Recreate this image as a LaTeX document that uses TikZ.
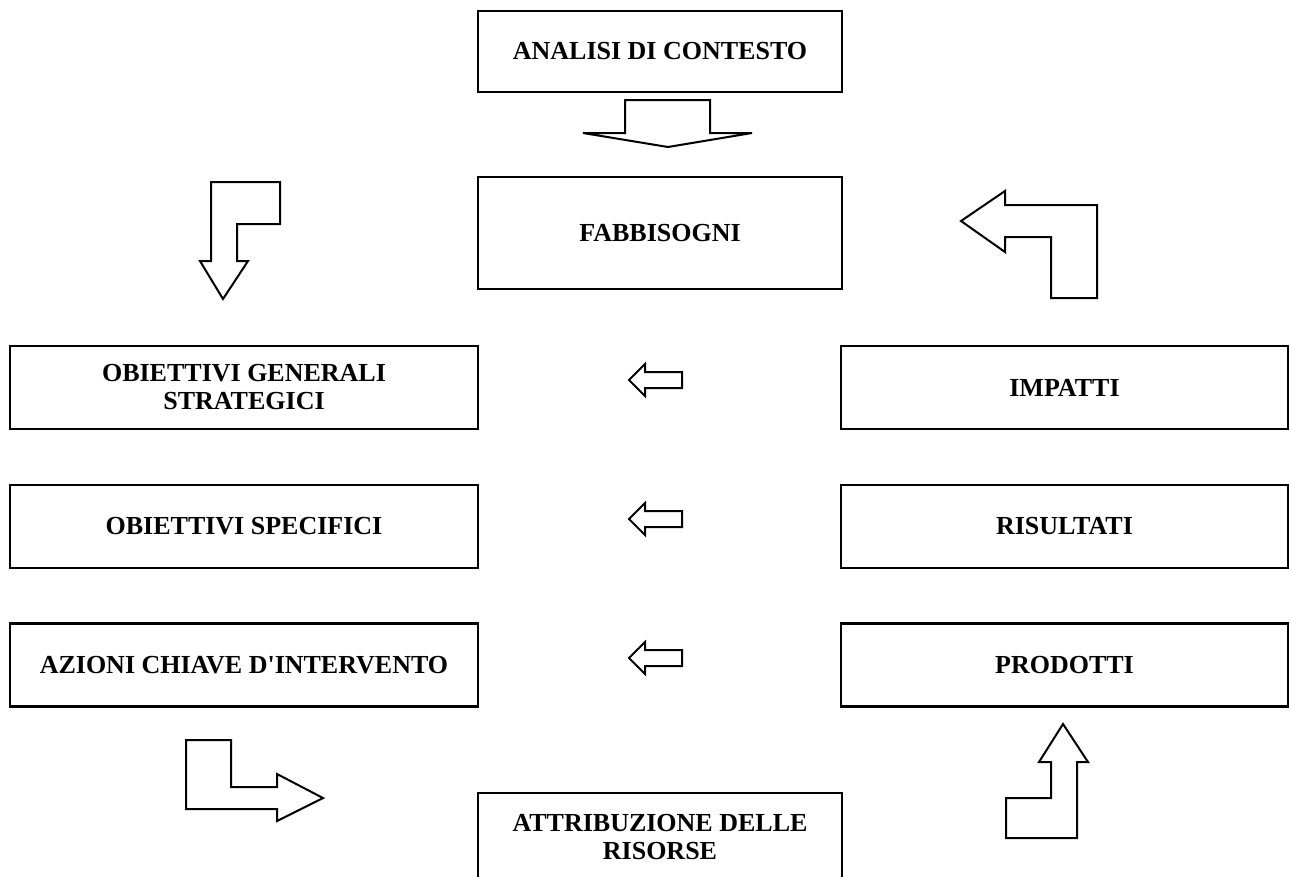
\documentclass[tikz,border=0pt]{standalone}
\usepackage{fontspec}
\setmainfont{Liberation Serif}
\begin{document}
\begin{tikzpicture}[x=0.75pt,y=-0.75pt,
  box/.style={draw, line width=2.2pt, inner sep=2pt, align=center,
    font=\bfseries\fontsize{19.5pt}{21pt}\selectfont},
  lbox/.style={box, minimum width=351pt, minimum height=62.25pt},
  rbox/.style={box, minimum width=335.25pt, minimum height=62.25pt},
  blockarrow/.style={draw, line width=1.5pt, line join=miter, fill=white}]
\useasboundingbox (0,0) rectangle (1290,876);
% middle column
\node[box, minimum width=273pt, minimum height=60.75pt] (ana) at (660,51.5) {ANALISI DI CONTESTO};
\node[box, minimum width=273pt, minimum height=84pt] (fab) at (660,233) {FABBISOGNI};
% left column
\node[lbox] (obg) at (244,387.5) {OBIETTIVI GENERALI\\STRATEGICI};
\node[lbox] (obs) at (244,526.5) {OBIETTIVI SPECIFICI};
\node[lbox] (azi) at (244,665) {AZIONI CHIAVE D\textquotesingle INTERVENTO};
% right column
\node[rbox] (imp) at (1064.5,387.5) {IMPATTI};
\node[rbox] (ris) at (1064.5,526.5) {RISULTATI};
\node[rbox] (pro) at (1064.5,665) {PRODOTTI};
% bottom box (cut by the page edge)
\begin{scope}
\clip (0,0) rectangle (1290,876);
\draw[line width=2.2pt] (478,900) -- (478,793) -- (842,793) -- (842,900);
\end{scope}
\node[box, draw=none] (att) at (660,837) {ATTRIBUZIONE DELLE\\RISORSE};
% block arrows
\draw[blockarrow] (625,100) -- (710,100) -- (710,133) -- (752,133) -- (668,147) -- (583,133) -- (625,133) -- cycle;
\draw[blockarrow] (211,182) -- (280,182) -- (280,224) -- (237,224) -- (237,261) -- (248,261) -- (223,299) -- (200,261) -- (211,261) -- cycle;
\draw[blockarrow] (961,221) -- (1005,191) -- (1005,205) -- (1097,205) -- (1097,298) -- (1051,298) -- (1051,237) -- (1005,237) -- (1005,252) -- cycle;
\foreach \c in {380,519,658}{
  \draw[blockarrow] (629,\c) -- (645,\c-16) -- (645,\c-8) -- (682,\c-8) -- (682,\c+8) -- (645,\c+8) -- (645,\c+16) -- cycle;
}
\draw[blockarrow] (186,740) -- (231,740) -- (231,787) -- (277,787) -- (277,774) -- (323,798) -- (277,821) -- (277,809) -- (186,809) -- cycle;
\draw[blockarrow] (1063,724) -- (1088,762) -- (1077,762) -- (1077,838) -- (1006,838) -- (1006,798) -- (1051,798) -- (1051,762) -- (1039,762) -- cycle;
\end{tikzpicture}
\end{document}
